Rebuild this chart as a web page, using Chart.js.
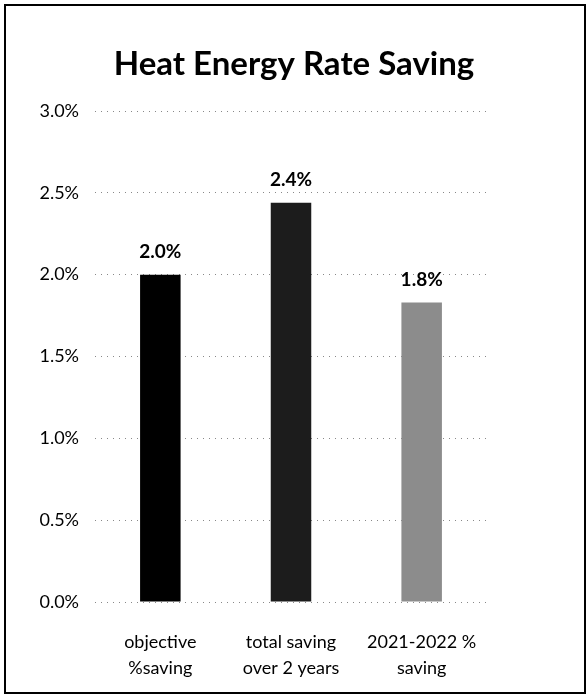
<!DOCTYPE html>
<html>
<head>
<meta charset="utf-8">
<script src="https://cdn.jsdelivr.net/npm/chart.js@4"></script>
<style>
  body { margin: 0; background: #fff; }
  #box {
    position: absolute; left: 4px; top: 4px;
    width: 578px; height: 686px;
    border: 2px solid #000;
  }
  canvas { display: block; }
</style>
</head>
<body>
<div id="box"><canvas id="c" width="578" height="686"></canvas></div>
<script>
/* data */
const chartTitle = "Heat Energy Rate Saving";
const categories = [["objective", "%saving"], ["total saving", "over 2 years"], ["2021-2022 %", "saving"]];
const savings = [2.0, 2.44, 1.83];
const barColors = ["#000000", "#1c1c1c", "#8c8c8c"];
const yTicks = [0, 0.5, 1.0, 1.5, 2.0, 2.5, 3.0];

const FONT = "Lato, 'Open Sans', sans-serif";

// title centred on the whole box, values above bars
const extras = {
  id: "extras",
  afterDraw(chart) {
    const { ctx, width } = chart;
    ctx.save();
    ctx.fillStyle = "#000";
    ctx.textAlign = "center";
    ctx.textBaseline = "middle";
    ctx.font = "bold 33px " + FONT;
    ctx.fillText(chartTitle, width / 2 - 1, 58);

    ctx.font = "bold 19px " + FONT;
    const meta = chart.getDatasetMeta(0);
    meta.data.forEach((bar, i) => {
      ctx.fillText(savings[i].toFixed(1) + "%", bar.x, bar.y - 23);
    });
    ctx.restore();
  },
};

new Chart(document.getElementById("c"), {
  type: "bar",
  data: {
    labels: categories,
    datasets: [{
      data: savings,
      backgroundColor: barColors,
      categoryPercentage: 1,
      barPercentage: 0.31,
    }],
  },
  options: {
    responsive: false,
    animation: false,
    layout: { padding: { left: 0, right: 97, top: 105, bottom: 0 } },
    plugins: {
      legend: { display: false },
      tooltip: { enabled: false },
      title: { display: false },
    },
    scales: {
      x: {
        grid: { display: false },
        border: { display: false },
        ticks: {
          color: "#000",
          font: { family: FONT, size: 18, lineHeight: 1.4 },
          padding: 20,
        },
        afterFit(scale) { scale.height = 90; },
      },
      y: {
        min: 0,
        max: 3,
        afterBuildTicks(scale) { scale.ticks = yTicks.map(v => ({ value: v })); },
        grid: { color: "#888", lineWidth: 1, drawTicks: false },
        border: { display: false, dash: [1, 5] },
        ticks: {
          color: "#000",
          font: { family: FONT, size: 18 },
          padding: 16,
          callback: v => v.toFixed(1) + "%",
        },
        afterFit(scale) { scale.width = 89; },
      },
    },
  },
  plugins: [extras],
});
</script>
</body>
</html>
